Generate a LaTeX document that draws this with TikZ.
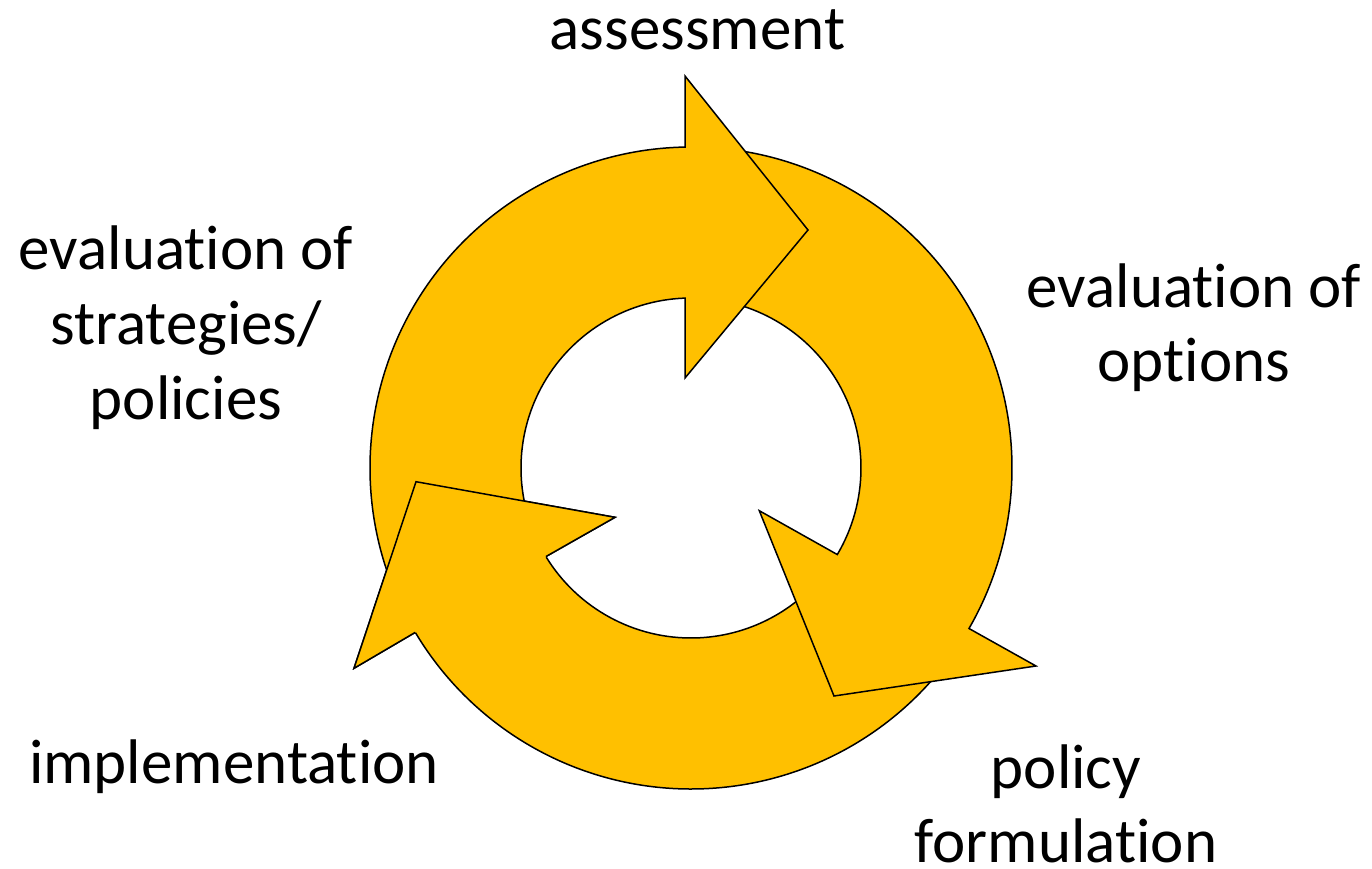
\documentclass[tikz,border=0pt]{standalone}
\usepackage{fontspec}
\setmainfont[Ligatures=NoCommon]{Carlito}
\definecolor{gold}{RGB}{255,192,0}
\newcommand\lblfont{\fontsize{63}{74.7}\selectfont}
\tikzset{
  arrowshape/.style={fill=gold, draw=black, line width=1.5pt, line join=miter},
  headline/.style={draw=black, line width=1.5pt, line join=miter},
  lbl/.style={font=\lblfont, align=center, anchor=base, inner sep=0pt}
}
\begin{document}
\begin{tikzpicture}[x=1pt,y=1pt]
\useasboundingbox (-691,-400) rectangle (681,468);
% arrow C (bottom, pointing to the upper left)
\path[arrowshape] (-36:321) arc[start angle=-36, end angle=-149.2, radius=321]
  -- (-337,-200.3) -- (-275,-13.7) -- (-76,-49.3) -- (-148.6:170)
  arc[start angle=-148.6, end angle=-36, radius=170] -- cycle;
% arrow B (right, pointing down)
\path[arrowshape] (84:321) arc[start angle=84, end angle=-30, radius=321]
  -- (345,-198) -- (143,-228) -- (68.3,-42.7) -- (-30.6:170)
  arc[start angle=-30.6, end angle=84, radius=170] -- cycle;
% arrow A (top, pointing right)
\path[arrowshape] (203:321) arc[start angle=203, end angle=91.07, radius=321]
  -- (-6,392) -- (117,238) -- (-6,90) -- (92.02:170)
  arc[start angle=92.02, end angle=203, radius=170] -- cycle;
% head of arrow C lies over the start of arrow A
\fill[gold] (-337,-200.3) -- (-275,-13.7) -- (-76,-49.3) -- cycle;
\path[headline] (-149.2:321) -- (-337,-200.3) -- (-275,-13.7) -- (-76,-49.3) -- (-148.6:170);
% labels (base anchor = baseline of the last line)
\node[lbl] (assess) at (6.5,418) {assessment};
\node[lbl] (evalopt) at (503,86.3) {evaluation of\\options};
\node[lbl] (policy) at (375,-394.7) {policy\\formulation};
\node[lbl] (impl) at (-457,-315) {implementation};
\node[lbl] (evalstrat) at (-505,48.7) {evaluation of\\strategies/\\policies};
\end{tikzpicture}
\end{document}
